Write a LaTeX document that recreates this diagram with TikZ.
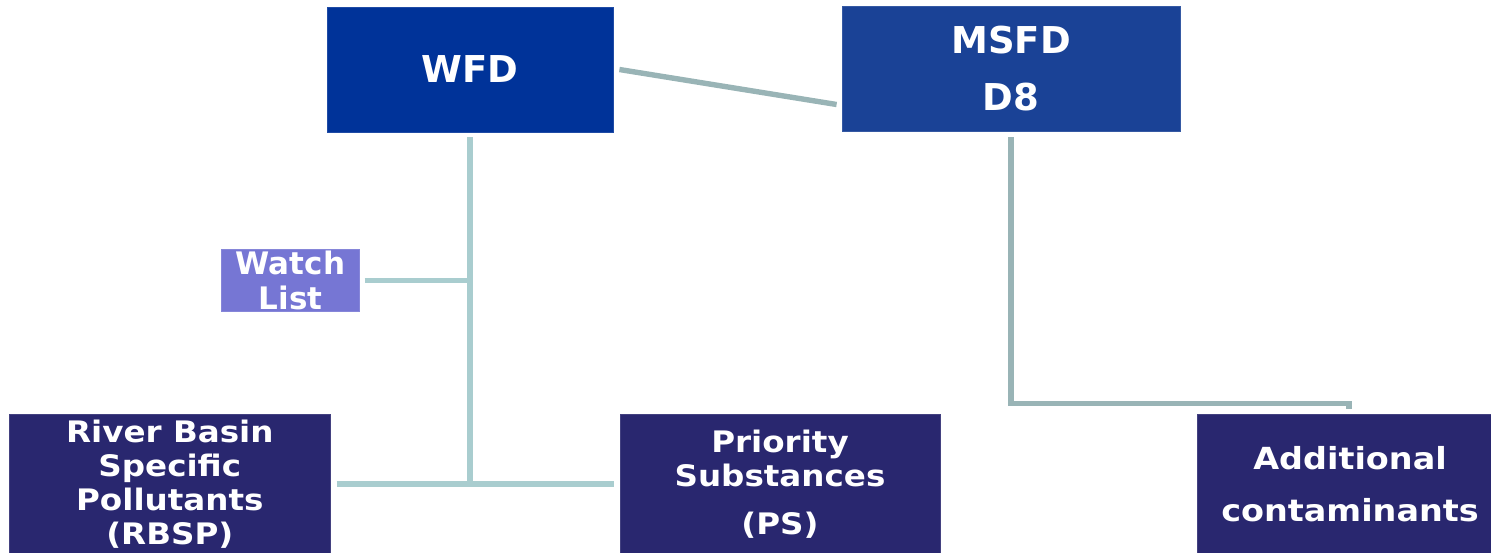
\documentclass[tikz,border=0pt]{standalone}
\usepackage{fontspec}
\setmainfont{DejaVu Sans}
\newfontfamily\subfont[FakeStretch=1.1]{DejaVu Sans}
\usetikzlibrary{positioning,calc}
\definecolor{wfdblue}{HTML}{003399}
\definecolor{msfdblue}{HTML}{1A4296}
\definecolor{watchlilac}{HTML}{7676D4}
\definecolor{subnavy}{HTML}{29276F}
\definecolor{linkgrey}{HTML}{99B4B6}
\definecolor{linkteal}{HTML}{A9CDCF}

\begin{document}
\begin{tikzpicture}[x=0.5pt,y=-0.5pt,
  topbox/.style={fill=#1,draw=#1!88!white,line width=0.4pt,text=white,
    font=\fontsize{18.5}{28.5}\selectfont\bfseries,
    minimum width=143pt,minimum height=62.5pt,inner sep=0pt,align=center},
  watchbox/.style={fill=watchlilac,draw=watchlilac!88!white,line width=0.4pt,text=white,
    font=\fontsize{15.5}{17.3}\selectfont\bfseries,
    minimum width=68.8pt,minimum height=30.85pt,inner sep=0pt,align=center},
  subbox/.style={fill=subnavy,draw=subnavy!88!white,line width=0.4pt,text=white,
    font=\subfont\fontsize{14.8}{17}\selectfont\bfseries,
    minimum width=160pt,minimum height=70pt,inner sep=0pt,align=center},
  link/.style={draw=linkgrey,line width=2.7pt},
  tree/.style={draw=linkteal,line width=2.7pt}]
\useasboundingbox (0,0) rectangle (1491,552);
\clip (0,0) rectangle (1491,552);
\node[topbox=wfdblue] (wfd) at (470,69.5) {WFD};
\node[topbox=msfdblue,minimum width=169pt] (msfd) at (1011,68.5) {MSFD\\D8};
\node[watchbox] (watch) at (290.5,280.2) {Watch\\List};
\node[subbox,minimum width=160.3pt] (rbsp) at (169.8,484) {River Basin\\Specific\\Pollutants\\(RBSP)};
\node[subbox] (ps) at (780,484) {Priority\\Substances\\[7pt](PS)};
\node[subbox,minimum width=153pt,font=\subfont\fontsize{15.2}{17}\selectfont\bfseries] (addc) at (1350,484) {Additional\\[9pt]contaminants};
\draw[link] ($(wfd.east)+(6,0)$) -- ($(msfd.west)+(-5,36)$);
\draw[tree] ($(wfd.south)+(0,5)$) -- (wfd.south |- rbsp.east);
\draw[tree] ($(watch.east)+(5,0)$) -- (wfd.south |- watch.east);
\draw[tree] ($(rbsp.east)+(6,0)$) -- ($(ps.west)+(-6,0)$);
\draw[link] ($(msfd.south)+(0,6)$) |- ($(addc.north)+(-1,-10)$) -- ($(addc.north)+(-1,-5)$);
\end{tikzpicture}
\end{document}
